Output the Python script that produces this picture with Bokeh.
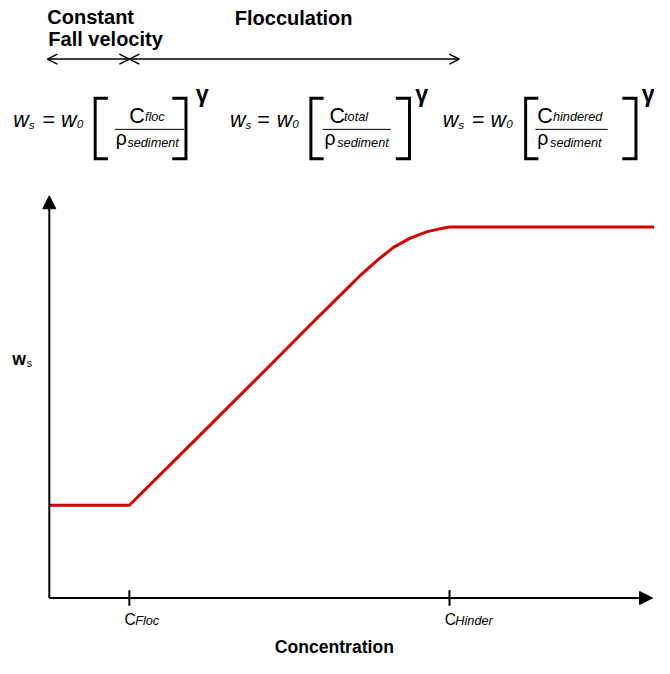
from bokeh.plotting import figure
from bokeh.models import Range1d, Label, Arrow, NormalHead, OpenHead
from bokeh.embed import file_html
from bokeh.resources import INLINE

# ---- chart values (schematic units) ----
concentration = [0.0, 1.0, 1.83, 2.84, 3.29, 3.70, 3.90, 4.11, 4.30, 4.51, 4.72, 4.88, 5.0, 7.56]
fall_velocity = [1.0, 1.0, 1.71, 2.58, 2.97, 3.32, 3.49, 3.65, 3.78, 3.88, 3.95, 3.98, 4.0, 4.0]
tick_positions = [1.0, 5.0]
tick_main = ["C", "C"]
tick_subs = ["Floc", "Hinder"]
eq_subs = ["floc", "total", "hindered"]
x_label = "Concentration"
y_label_main = "w"
y_label_sub = "s"
regime_top = ["Constant", "Fall velocity", "Flocculation"]

FONT = "Liberation Sans"
RED = "#d40000"
W, H = 654, 658
S = W / 670.0          # picture scale relative to the reference
TEXT_SHIFT = 8         # px: compensates label baseline placement

# reference-pixel helpers for layout of decorations
X0, Y0, UX, UY = 50.0, 612.0, 82.0, 95.0
def X(px):
    return (px - X0) / UX
def Y(py):
    return (Y0 - py) / UY

p = figure(width=W, height=H, output_backend="svg", toolbar_location=None,
           x_range=Range1d(X(0), X(670)), y_range=Range1d(Y(674), Y(0)),
           min_border=0, title=None)
p.axis.visible = False
p.grid.visible = False
p.outline_line_color = None
p.background_fill_color = "white"

def lab(px, py, txt, size, style="normal", align="left"):
    p.add_layout(Label(x=X(px), y=Y(py), y_offset=TEXT_SHIFT, text=txt, text_font=FONT,
                       text_font_size=f"{size * S:.1f}px", text_font_style=style,
                       text_align=align, text_baseline="alphabetic",
                       text_color="black"))

# ---- curve ----
p.line(concentration, fall_velocity, line_color=RED, line_width=3, line_join="round")

# ---- axes with arrows ----
p.add_layout(Arrow(x_start=0, y_start=0, x_end=0, y_end=Y(200),
                   end=NormalHead(size=13, fill_color="black", line_color="black"),
                   line_width=2, line_color="black"))
p.add_layout(Arrow(x_start=0, y_start=0, x_end=X(668), y_end=0,
                   end=NormalHead(size=13, fill_color="black", line_color="black"),
                   line_width=2, line_color="black"))

# ticks
p.segment(x0=tick_positions, y0=[Y(604)] * len(tick_positions),
          x1=tick_positions, y1=[Y(620)] * len(tick_positions),
          line_color="black", line_width=2)
for tp, tm, ts in zip(tick_positions, tick_main, tick_subs):
    px = tp * UX + X0
    lab(px - 5, 642, tm, 16)
    lab(px + 6, 644, ts, 13, "italic")

lab(342, 670, x_label, 18, "bold", "center")
lab(12, 375, y_label_main, 18, "bold")
lab(27, 380, y_label_sub, 11)

# ---- top regime labels & arrows ----
lab(48, 25, regime_top[0], 20.5, "bold")
lab(49, 48, regime_top[1], 20.5, "bold")
lab(240, 26, regime_top[2], 20.5, "bold")
p.add_layout(Arrow(x_start=X(48), y_start=Y(60), x_end=tick_positions[0], y_end=Y(60),
                   start=OpenHead(size=10, line_width=1.5), end=OpenHead(size=10, line_width=1.5),
                   line_width=1.5, line_color="black"))
p.add_layout(Arrow(x_start=tick_positions[0], y_start=Y(60), x_end=X(470), y_end=Y(60),
                   start=OpenHead(size=10, line_width=1.5), end=OpenHead(size=10, line_width=1.5),
                   line_width=1.5, line_color="black"))

# ---- equations ----
# (w, s, =, w, 0, left bracket, frac left, frac right, C, sub, rho, sediment, right bracket, gamma)
eq_layout = [
    (13, 29, 43, 62, 78, 97, 117, 188, 132, 148, 118, 130, 190, 200),
    (235, 251, 263, 283, 299, 318, 330, 400, 337, 352, 332, 345, 419, 425),
    (453, 469, 483, 502, 518, 538, 548, 622, 550, 566, 550, 563, 651, 657),
]
bx, by = [], []
fx0, fx1 = [], []
for sub, L in zip(eq_subs, eq_layout):
    w1, s1, eqx, w2, z2, lb, fl, fr, cx, sx, rx, sedx, rb, gx = L
    lab(w1, 131, "w", 22, "italic")
    lab(s1, 135, "s", 12, "italic")
    lab(eqx, 131, "=", 22)
    lab(w2, 131, "w", 22, "italic")
    lab(z2, 135, "0", 12, "italic")
    lab(cx, 127, "C", 22)
    lab(sx, 128, sub, 13, "italic")
    lab(rx, 149, "\u03c1", 20)
    lab(sedx, 154, "sediment", 13, "italic")
    lab(gx, 104, "\u03b3", 24, "bold")
    bx.append([X(lb + 13), X(lb), X(lb), X(lb + 13)])
    by.append([Y(100), Y(100), Y(162), Y(162)])
    bx.append([X(rb - 14), X(rb), X(rb), X(rb - 14)])
    by.append([Y(100), Y(100), Y(162), Y(162)])
    fx0.append(X(fl))
    fx1.append(X(fr))

p.multi_line(bx, by, line_color="black", line_width=3, line_join="miter")
p.segment(x0=fx0, y0=[Y(132)] * 3, x1=fx1, y1=[Y(132)] * 3, line_color="black", line_width=1)

open("out.html", "w").write(file_html(p, INLINE))
